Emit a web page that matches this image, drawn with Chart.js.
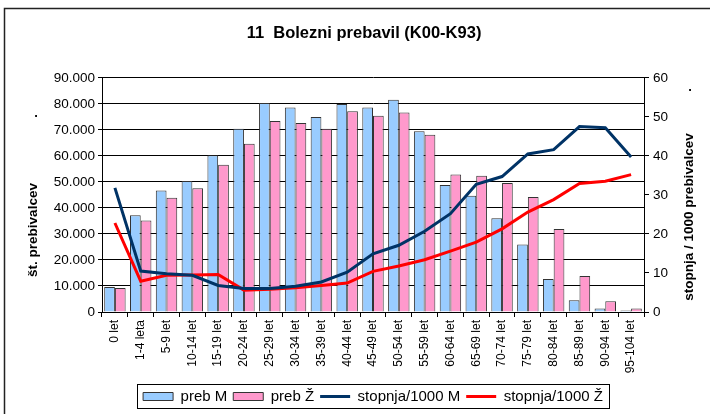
<!DOCTYPE html>
<html>
<head>
<meta charset="utf-8">
<script src="https://cdn.jsdelivr.net/npm/chart.js@4/dist/chart.umd.min.js"></script>
<style>
  html, body { margin: 0; padding: 0; background: #fff; }
  #graf { display: block; }
</style>
</head>
<body>
<canvas id="graf" width="710" height="414"></canvas>
<script>
const starostneSkupine = ['0 let', '1-4 leta', '5-9 let', '10-14 let', '15-19 let', '20-24 let', '25-29 let',
    '30-34 let', '35-39 let', '40-44 let', '45-49 let', '50-54 let', '55-59 let', '60-64 let', '65-69 let',
    '70-74 let', '75-79 let', '80-84 let', '85-89 let', '90-94 let', '95-104 let'];

const prebM = [9600, 37200, 46700, 50300, 60200, 70400, 80300, 78600, 74900, 79900, 78600,
    81600, 69500, 48800, 44700, 36000, 25900, 12700, 4500, 1300, 600];
const prebZ = [9200, 35200, 43900, 47600, 56600, 64700, 73400, 72600, 70400, 77100, 75400,
    76700, 68100, 52800, 52400, 49600, 44200, 31900, 13800, 4100, 1300];

const stopnjaM = [31.8, 10.5, 9.8, 9.4, 6.8, 6.0, 6.0, 6.6, 7.7, 10.2, 14.9,
    17.1, 20.7, 25.2, 32.7, 34.7, 40.5, 41.6, 47.5, 47.2, 39.7];
const stopnjaZ = [22.8, 7.9, 9.4, 9.5, 9.6, 5.6, 5.8, 6.2, 6.8, 7.4, 10.4,
    11.8, 13.4, 15.6, 17.9, 21.3, 25.6, 28.8, 32.9, 33.5, 35.2];

const oznakeLevo = ['0', '10.000', '20.000', '30.000', '40.000', '50.000', '60.000', '70.000', '80.000', '90.000'];
const oznakeDesno = ['0', '10', '20', '30', '40', '50', '60'];

const pisava = "'Liberation Sans', Arial, sans-serif";

// okvir, okvir legende in naslova osi
const okrasje = {
    id: 'okrasje',
    afterDraw(chart) {
        const ctx = chart.ctx;
        ctx.save();
        ctx.strokeStyle = '#222';
        ctx.lineWidth = 1.5;
        ctx.beginPath();
        ctx.moveTo(4.5, 414);
        ctx.lineTo(4.5, 8.5);
        ctx.lineTo(710, 8.5);
        ctx.stroke();

        const boxes = chart.legend.legendHitBoxes;
        if (boxes && boxes.length) {
            const levo = Math.min(...boxes.map(b => b.left));
            const desno = Math.max(...boxes.map(b => b.left + b.width));
            const vrh = Math.min(...boxes.map(b => b.top));
            const dno = Math.max(...boxes.map(b => b.top + b.height));
            ctx.lineWidth = 1;
            ctx.strokeStyle = '#000';
            ctx.strokeRect(Math.round(levo - 6) + 0.5, Math.round(vrh - 5) + 0.5,
                Math.round(desno - levo + 12), Math.round(dno - vrh + 9));
        }

        ctx.fillStyle = '#000';
        ctx.font = 'bold 13.5px ' + pisava;
        ctx.textAlign = 'center';
        ctx.textBaseline = 'middle';
        ctx.save();
        ctx.translate(33, 230);
        ctx.rotate(-Math.PI / 2);
        ctx.fillText('št. prebivalcev', 0, 0);
        ctx.restore();
        ctx.save();
        ctx.translate(689, 217);
        ctx.rotate(-Math.PI / 2);
        ctx.fillText('stopnja / 1000 prebivalcev', 0, 0);
        ctx.restore();
        ctx.font = 'bold 13px ' + pisava;
        ctx.fillText('.', 36, 113);
        ctx.fillText('.', 690, 87);
        ctx.restore();
    }
};

const ctx = document.getElementById('graf').getContext('2d');
new Chart(ctx, {
    type: 'bar',
    data: {
        labels: starostneSkupine,
        datasets: [
            {
                label: 'preb M',
                data: prebM,
                backgroundColor: '#99CCFF',
                borderColor: '#333',
                borderWidth: 1,
                yAxisID: 'y',
                order: 1,
                pointStyle: 'rect'
            },
            {
                label: 'preb Ž',
                data: prebZ,
                backgroundColor: '#FF99CC',
                borderColor: '#333',
                borderWidth: 1,
                yAxisID: 'y',
                order: 1,
                pointStyle: 'rect'
            },
            {
                type: 'line',
                label: 'stopnja/1000 M',
                data: stopnjaM,
                borderColor: '#003366',
                backgroundColor: '#003366',
                borderWidth: 3,
                pointRadius: 0,
                pointStyle: 'line',
                yAxisID: 'y1',
                order: 0
            },
            {
                type: 'line',
                label: 'stopnja/1000 Ž',
                data: stopnjaZ,
                borderColor: '#FF0000',
                backgroundColor: '#FF0000',
                borderWidth: 3,
                pointRadius: 0,
                pointStyle: 'line',
                yAxisID: 'y1',
                order: 0
            }
        ]
    },
    options: {
        responsive: false,
        animation: false,
        devicePixelRatio: 1,
        datasets: {
            bar: { categoryPercentage: 0.83, barPercentage: 1 }
        },
        layout: { padding: { left: 18, right: 0, top: 0, bottom: 0 } },
        plugins: {
            title: {
                display: true,
                text: '11  Bolezni prebavil (K00-K93)',
                color: '#000',
                font: { family: pisava, size: 16.5, weight: 'bold' },
                padding: { top: 24, bottom: 34 }
            },
            legend: {
                position: 'bottom',
                fullSize: false,
                labels: {
                    color: '#000',
                    font: { family: pisava, size: 15 },
                    usePointStyle: true,
                    pointStyleWidth: 30,
                    boxHeight: 8,
                    padding: 6,
                    sort: (a, b) => a.datasetIndex - b.datasetIndex
                }
            },
            tooltip: { enabled: false }
        },
        scales: {
            x: {
                grid: { display: true, offset: true, drawOnChartArea: false, color: '#000', tickLength: 5 },
                border: { display: true, color: '#000' },
                ticks: {
                    color: '#000',
                    font: { family: pisava, size: 12 },
                    minRotation: 90,
                    maxRotation: 90,
                    padding: 3,
                    autoSkip: false
                },
                afterFit(scale) { scale.height = 71; }
            },
            y: {
                position: 'left',
                min: 0,
                max: 90000,
                grid: { color: '#000', tickLength: 4 },
                border: { color: '#000' },
                ticks: {
                    stepSize: 10000,
                    color: '#000',
                    font: { family: pisava, size: 13.5 },
                    padding: 3,
                    callback: (v, i) => oznakeLevo[i]
                },
                afterFit(scale) { scale.width = 84; }
            },
            y1: {
                position: 'right',
                min: 0,
                max: 60,
                grid: { drawOnChartArea: false, color: '#000', tickLength: 5 },
                border: { color: '#000' },
                ticks: {
                    stepSize: 10,
                    color: '#000',
                    font: { family: pisava, size: 13.5 },
                    padding: 4,
                    callback: (v, i) => oznakeDesno[i]
                },
                afterFit(scale) { scale.width = 66; }
            }
        }
    },
    plugins: [okrasje]
});
</script>
</body>
</html>
